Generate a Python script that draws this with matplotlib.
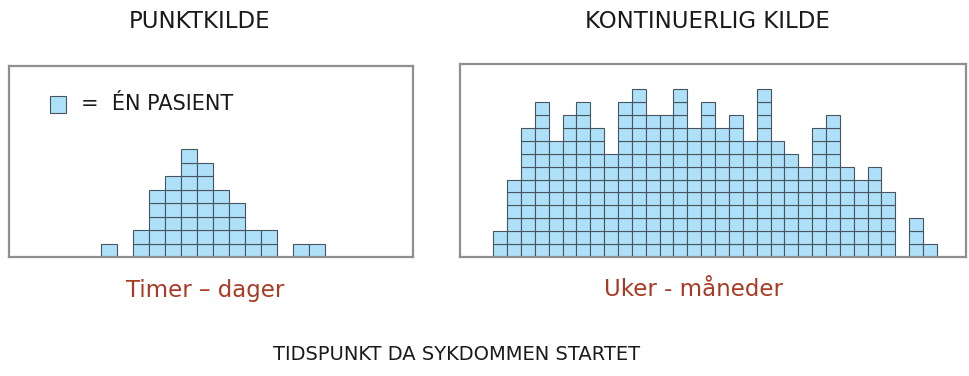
import numpy as np
import matplotlib
matplotlib.use("Agg")
import matplotlib.pyplot as plt
from matplotlib.patches import Rectangle
import matplotlib.patheffects as pe

# patients per time bin
point_counts = [1, 0, 2, 5, 6, 8, 7, 5, 4, 2, 2, 0, 1, 1]
cont_counts = [2, 6, 10, 12, 9, 11, 12, 10, 8, 12, 13, 11, 11, 13, 10, 12,
               10, 11, 9, 13, 9, 8, 7, 10, 11, 7, 6, 7, 5, 0, 3, 1]

titles = ["PUNKTKILDE", "KONTINUERLIG KILDE"]
sublabels = ["Timer \u2013 dager", "Uker - m\u00e5neder"]
xlabel = "TIDSPUNKT DA SYKDOMMEN STARTET"
legend_text = "=  \u00c9N PASIENT"

FACE = "#aee1f9"
EDGE = "#46555e"
RED = "#a93a26"
W, H = 970, 376

fig = plt.figure(figsize=(W / 100, H / 100), dpi=100)


def px_axes(x0, y0, x1, y1):
    # pixel box (top-left origin) -> axes
    return fig.add_axes([x0 / W, 1 - y1 / H, (x1 - x0) / W, (y1 - y0) / H])


def stack(ax, counts):
    idx = np.arange(len(counts))
    xs = np.repeat(idx, counts)
    bottoms = np.concatenate([np.arange(c) for c in counts])
    ax.bar(xs + 0.5, 1, bottom=bottoms, width=1, color=FACE,
           edgecolor=EDGE, linewidth=0.8)


def frame(ax):
    ax.set_xticks([])
    ax.set_yticks([])
    for s in ax.spines.values():
        s.set_color("#8f8f8f")
        s.set_linewidth(1.6)
        s.set_path_effects([pe.SimplePatchShadow(offset=(1.5, -1.5),
                                                 shadow_rgbFace="#aaaaaa", alpha=0.7),
                            pe.Normal()])


ax1 = px_axes(9, 66, 413, 257)
stack(ax1, point_counts)
ax1.set_xlim(-5.75, 19.5)
ax1.set_ylim(0, (257 - 66) / 13.5)
frame(ax1)

ax2 = px_axes(460, 64, 966, 257)
stack(ax2, cont_counts)
ax2.set_xlim(-2.4, 34.1)
ax2.set_ylim(0, (257 - 64) / 12.9)
frame(ax2)

fig.text(200 / W, 1 - 22 / H, titles[0], ha="center", va="center",
         fontsize=16.5, color="#1a1a1a")
fig.text(707 / W, 1 - 22 / H, titles[1], ha="center", va="center",
         fontsize=16.5, color="#1a1a1a")
fig.text(205 / W, 1 - 290 / H, sublabels[0], ha="center", va="center",
         fontsize=16.5, color=RED)
fig.text(694 / W, 1 - 290 / H, sublabels[1], ha="center", va="center",
         fontsize=16.5, color=RED)
fig.text(457 / W, 1 - 355 / H, xlabel, ha="center", va="center",
         fontsize=14, color="#1a1a1a")

# legend square
fig.patches.append(Rectangle((50 / W, 1 - 113 / H), 16 / W, 17 / H,
                             transform=fig.transFigure, facecolor=FACE,
                             edgecolor=EDGE, linewidth=0.8))
fig.text(81 / W, 1 - 104 / H, legend_text, ha="left", va="center",
         fontsize=15, color="#1a1a1a")

fig.savefig("out.png", dpi=100)
